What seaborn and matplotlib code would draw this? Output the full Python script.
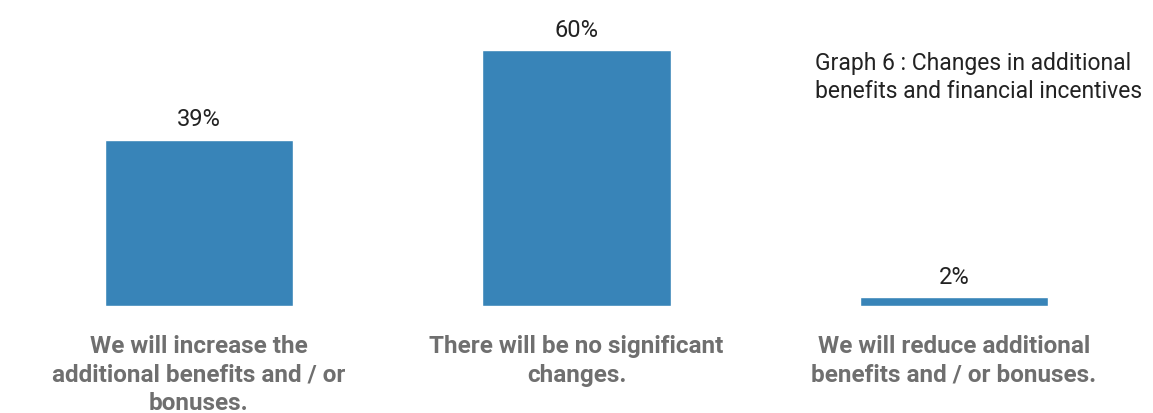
import matplotlib
matplotlib.use("Agg")
import matplotlib.pyplot as plt
import seaborn as sns
import pandas as pd

categories = [
    "We will increase the\nadditional benefits and / or\nbonuses.",
    "There will be no significant\nchanges.",
    "We will reduce additional\nbenefits and / or bonuses.",
]
values = [39, 60, 2]
value_labels = ["39%", "60%", "2%"]
title = "Graph 6 : Changes in additional\nbenefits and financial incentives"

sns.set_theme(style="white")
plt.rcParams["font.family"] = ["Roboto", "DejaVu Sans"]

df = pd.DataFrame({"cat": categories, "val": values})

fig = plt.figure(figsize=(11.53, 4.13), dpi=100)
ax = fig.add_axes([0, 0.259, 1, 0.620])
sns.barplot(data=df, x="cat", y="val", color="#3884B8", width=0.5, saturation=1, ax=ax)
ax.set_xlim(-0.527, 2.527)
ax.set_ylim(0, 60)
ax.set_xlabel("")
ax.set_ylabel("")
ax.set_yticks([])
ax.set_xticks([])
for s in ax.spines.values():
    s.set_visible(False)

for i, (v, lab) in enumerate(zip(values, value_labels)):
    ax.annotate(lab, (i, v), xytext=(0, 6), textcoords="offset points",
                ha="center", va="bottom", fontsize=17, color="#222222",
                annotation_clip=False)

for i, c in enumerate(categories):
    ax.annotate(c, (i, 0), xytext=(0, -21), textcoords="offset points",
                ha="center", va="top", fontsize=17.5, fontweight="bold",
                color="#6f6f6f", linespacing=1.3, annotation_clip=False)

fig.text(815 / 1153, 1 - 52 / 413, title, ha="left", va="top",
         fontsize=16.5, color="#222222", linespacing=1.3)

fig.savefig("out.png", dpi=100)
